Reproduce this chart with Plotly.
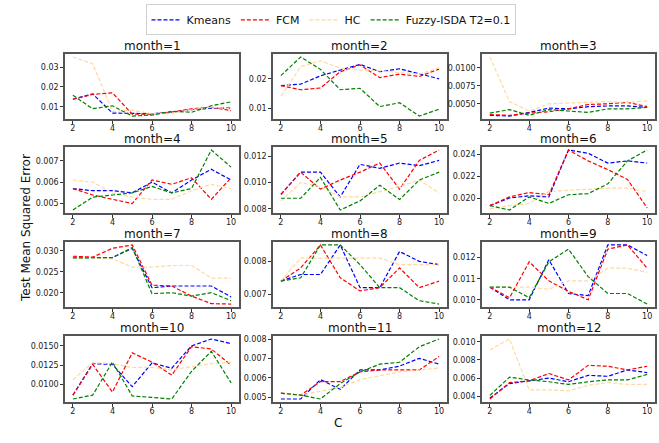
import plotly.graph_objects as go
from plotly.subplots import make_subplots

# number of clusters on the x axis
C = [2, 3, 4, 5, 6, 7, 8, 9, 10]
months = list(range(1, 13))

# test MSE per month (rows) and C (columns)
kmeans = [
    [0.0138, 0.0165, 0.0068, 0.0065, 0.0065, 0.0072, 0.0085, 0.0093, 0.0093],
    [0.0177, 0.0182, 0.0210, 0.0230, 0.0249, 0.0224, 0.0234, 0.0217, 0.0200],
    [0.0034, 0.0033, 0.0038, 0.0044, 0.0043, 0.0046, 0.0047, 0.0047, 0.0045],
    [0.0057, 0.0056, 0.0056, 0.0055, 0.0060, 0.0055, 0.0061, 0.0066, 0.0061],
    [0.0091, 0.0108, 0.0108, 0.0089, 0.0114, 0.0111, 0.0115, 0.0113, 0.0117],
    [0.0193, 0.0200, 0.0202, 0.0201, 0.0244, 0.0241, 0.0232, 0.0234, 0.0232],
    [0.0284, 0.0284, 0.0284, 0.0306, 0.0212, 0.0216, 0.0216, 0.0216, 0.0190],
    [0.0074, 0.0076, 0.0076, 0.0085, 0.0072, 0.0072, 0.0083, 0.0080, 0.0079],
    [0.0106, 0.0100, 0.0100, 0.0119, 0.0103, 0.0102, 0.0126, 0.0126, 0.0121],
    [0.0086, 0.0127, 0.0126, 0.0097, 0.0128, 0.0121, 0.0150, 0.0159, 0.0153],
    [0.0049, 0.0049, 0.0059, 0.0054, 0.0064, 0.0064, 0.0066, 0.0070, 0.0067],
    [0.0038, 0.0054, 0.0057, 0.0060, 0.0056, 0.0063, 0.0062, 0.0069, 0.0066],
]
fcm = [
    [0.0138, 0.0163, 0.0170, 0.0063, 0.0063, 0.0072, 0.0090, 0.0098, 0.0080],
    [0.0177, 0.0163, 0.0169, 0.0224, 0.0247, 0.0204, 0.0216, 0.0208, 0.0233],
    [0.0035, 0.0034, 0.0037, 0.0039, 0.0043, 0.0049, 0.0050, 0.0052, 0.0046],
    [0.0057, 0.0054, 0.0052, 0.0050, 0.0061, 0.0059, 0.0062, 0.0052, 0.0062],
    [0.0091, 0.0108, 0.0095, 0.0102, 0.0108, 0.0115, 0.0095, 0.0117, 0.0125],
    [0.0193, 0.0201, 0.0205, 0.0203, 0.0244, 0.0234, 0.0226, 0.0217, 0.0191],
    [0.0287, 0.0285, 0.0306, 0.0314, 0.0218, 0.0216, 0.0192, 0.0174, 0.0173],
    [0.0074, 0.0078, 0.0085, 0.0075, 0.0071, 0.0072, 0.0078, 0.0072, 0.0074],
    [0.0106, 0.0101, 0.0118, 0.0109, 0.0104, 0.0100, 0.0124, 0.0126, 0.0115],
    [0.0086, 0.0126, 0.0090, 0.0141, 0.0129, 0.0112, 0.0149, 0.0146, 0.0125],
    [0.0052, 0.0051, 0.0058, 0.0058, 0.0063, 0.0064, 0.0064, 0.0064, 0.0071],
    [0.0037, 0.0055, 0.0057, 0.0065, 0.0058, 0.0074, 0.0073, 0.0069, 0.0073],
]
hc = [
    [0.0352, 0.0318, 0.0077, 0.0082, 0.0065, 0.0068, 0.0085, 0.0098, 0.0090],
    [0.0141, 0.0241, 0.0261, 0.0236, 0.0230, 0.0227, 0.0221, 0.0216, 0.0237],
    [0.0115, 0.0053, 0.0040, 0.0050, 0.0051, 0.0052, 0.0053, 0.0052, 0.0054],
    [0.0061, 0.0060, 0.0055, 0.0053, 0.0052, 0.0052, 0.0056, 0.0059, 0.0057],
    [0.0086, 0.0100, 0.0097, 0.0089, 0.0089, 0.0093, 0.0097, 0.0102, 0.0092],
    [0.0190, 0.0193, 0.0195, 0.0206, 0.0207, 0.0208, 0.0209, 0.0209, 0.0206],
    [0.0283, 0.0283, 0.0281, 0.0261, 0.0261, 0.0265, 0.0265, 0.0235, 0.0235],
    [0.0074, 0.0081, 0.0081, 0.0081, 0.0081, 0.0081, 0.0079, 0.0079, 0.0079],
    [0.0106, 0.0106, 0.0106, 0.0105, 0.0109, 0.0109, 0.0115, 0.0115, 0.0113],
    [0.0106, 0.0128, 0.0127, 0.0122, 0.0122, 0.0119, 0.0123, 0.0127, 0.0129],
    [0.0052, 0.0051, 0.0053, 0.0055, 0.0059, 0.0061, 0.0063, 0.0064, 0.0065],
    [0.0091, 0.0103, 0.0047, 0.0047, 0.0046, 0.0052, 0.0055, 0.0053, 0.0053],
]
fuzzy_isda = [
    [0.0158, 0.0090, 0.0105, 0.0053, 0.0058, 0.0077, 0.0072, 0.0105, 0.0125],
    [0.0211, 0.0274, 0.0232, 0.0163, 0.0168, 0.0106, 0.0119, 0.0074, 0.0097],
    [0.0037, 0.0042, 0.0034, 0.0042, 0.0040, 0.0038, 0.0043, 0.0043, 0.0045],
    [0.0047, 0.0053, 0.0054, 0.0055, 0.0058, 0.0055, 0.0057, 0.0075, 0.0067],
    [0.0088, 0.0088, 0.0104, 0.0079, 0.0086, 0.0098, 0.0087, 0.0102, 0.0108],
    [0.0193, 0.0189, 0.0201, 0.0195, 0.0203, 0.0204, 0.0213, 0.0234, 0.0244],
    [0.0283, 0.0283, 0.0284, 0.0308, 0.0198, 0.0200, 0.0192, 0.0200, 0.0181],
    [0.0074, 0.0075, 0.0085, 0.0085, 0.0079, 0.0072, 0.0072, 0.0068, 0.0067],
    [0.0106, 0.0106, 0.0101, 0.0118, 0.0124, 0.0111, 0.0103, 0.0103, 0.0098],
    [0.0081, 0.0086, 0.0129, 0.0085, 0.0083, 0.0081, 0.0117, 0.0143, 0.0102],
    [0.0052, 0.0051, 0.0049, 0.0057, 0.0063, 0.0067, 0.0068, 0.0076, 0.0080],
    [0.0041, 0.0061, 0.0058, 0.0056, 0.0053, 0.0056, 0.0058, 0.0058, 0.0064],
]

# y tick labels as printed on each panel
ytick_text = [
    ['0.01', '0.02', '0.03'],
    ['0.01', '0.02'],
    ['0.0050', '0.0075', '0.0100'],
    ['0.005', '0.006', '0.007'],
    ['0.008', '0.010', '0.012'],
    ['0.020', '0.022', '0.024'],
    ['0.020', '0.025', '0.030'],
    ['0.007', '0.008'],
    ['0.010', '0.011', '0.012'],
    ['0.0100', '0.0125', '0.0150'],
    ['0.005', '0.006', '0.007', '0.008'],
    ['0.004', '0.006', '0.008', '0.010'],
]

series = [
    ('Kmeans', kmeans, 'blue'),
    ('FCM', fcm, 'red'),
    ('HC', hc, '#ffd9a0'),
    ('Fuzzy-ISDA T2=0.1', fuzzy_isda, 'green'),
]

W, H = 659, 443
col_px = [(65, 239), (273, 447), (482, 655)]
row_px = [(54, 119), (147, 213), (242, 307), (336, 402)]

fig = make_subplots(rows=4, cols=3)
font = 'DejaVu Sans, Liberation Sans, sans-serif'
frame = dict(showline=True, mirror=True, linecolor='#555', linewidth=1.5,
             showgrid=False, zeroline=False, ticks='outside', ticklen=3,
             tickcolor='#333', automargin=False,
             tickfont=dict(size=8, color='#222', family=font))

annotations = []
for i, m in enumerate(months):
    r, c = divmod(i, 3)
    for name, data, color in series:
        fig.add_trace(go.Scatter(
            x=C, y=data[i], name=name, mode='lines',
            line=dict(color=color, dash='4px,2px', width=1.2),
            legendgroup=name, showlegend=(i == 0),
        ), row=r + 1, col=c + 1)

    # matplotlib-style 5% autoscale margins
    vals = [v for _, d, _ in series for v in d[i]]
    lo, hi = min(vals), max(vals)
    pad = 0.05 * (hi - lo)
    x0, x1 = col_px[c]
    y0, y1 = row_px[r]
    k = i + 1
    fig.update_layout({
        f'xaxis{k}': dict(frame, domain=[x0 / W, x1 / W], range=[1.6, 10.4],
                          tickvals=[2, 4, 6, 8, 10], ticklabelstandoff=-2),
        f'yaxis{k}': dict(frame, domain=[1 - y1 / H, 1 - y0 / H], range=[lo - pad, hi + pad],
                          tickvals=[float(t) for t in ytick_text[i]], ticktext=ytick_text[i]),
    })
    annotations.append(dict(text=f'month={m}', x=(x0 + x1) / 2 / W, y=1 - y0 / H,
                            xref='paper', yref='paper', xanchor='center', yanchor='bottom',
                            yshift=-1, showarrow=False, font=dict(size=12, family=font, color='#111')))

annotations.append(dict(text='C', x=338 / W, y=1 - 432 / H, xref='paper', yref='paper',
                        showarrow=False, font=dict(size=12, family=font, color='#111')))
annotations.append(dict(text='Test Mean Squared Error', x=17 / W, y=1 - 228 / H, xref='paper',
                        yref='paper', textangle=-90, showarrow=False,
                        font=dict(size=12, family=font, color='#111')))

fig.update_layout(
    width=W, height=H,
    margin=dict(l=0, r=0, t=0, b=0, autoexpand=False),
    paper_bgcolor='white', plot_bgcolor='white',
    annotations=annotations,
    legend=dict(orientation='h', x=0.503, xanchor='center', y=0.99, yanchor='top',
                bordercolor='#d0d0d0', borderwidth=1, font=dict(size=11, family=font, color='#111'),
                itemwidth=30, tracegroupgap=0),
)

# the page body has a default 8px margin; drop it so the figure sits at the window corner
fig.write_html('out.html', config={'displayModeBar': False},
               post_script="document.body.style.margin = '0';")
